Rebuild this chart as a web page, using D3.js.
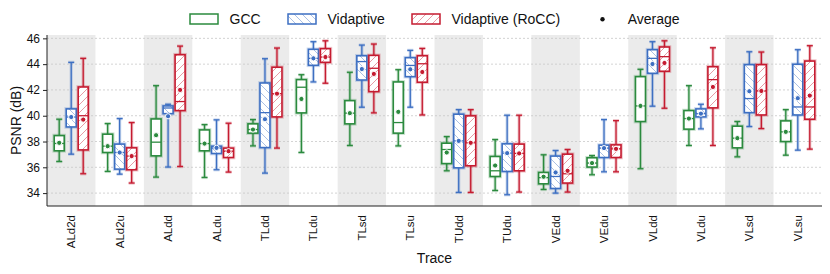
<!DOCTYPE html>
<html><head><meta charset="utf-8">
<script src="https://cdn.jsdelivr.net/npm/d3@7"></script>
<style>body{margin:0;background:#fff}svg{display:block;font-family:"Liberation Sans",Arial,sans-serif}</style>
</head><body><svg id="c" width="830" height="274"></svg>
<script>
const categories = ["ALd2d","ALd2u","ALdd","ALdu","TLdd","TLdu","TLsd","TLsu","TUdd","TUdu","VEdd","VEdu","VLdd","VLdu","VLsd","VLsu"];
const seriesNames = ["GCC","Vidaptive","Vidaptive (RoCC)"];
const yTicks = [34,36,38,40,42,44,46];

const gccLo   = [36.45,35.68,35.24,35.21,37.66,37.15,37.69,37.66,35.73,34.2,34.28,35.42,35.89,37.69,36.81,36.94];
const gccQ1   = [37.28,37.15,36.89,37.28,38.65,40.22,39.37,38.65,36.29,35.29,34.72,36.02,39.55,38.96,37.51,38.0];
const gccMed  = [37.85,37.64,37.95,37.84,38.93,42.21,40.2,39.47,37.38,35.73,35.2,36.33,40.76,39.78,38.26,38.75];
const gccQ3   = [38.46,38.57,39.75,38.9,39.37,42.8,41.17,42.62,37.87,36.84,35.6,36.74,43.03,40.4,39.19,39.6];
const gccHi   = [39.73,39.39,42.33,39.31,39.7,43.18,43.37,43.57,38.38,38.15,36.97,36.91,43.6,42.33,39.55,40.47];
const gccMean = [37.9,37.64,38.49,37.84,38.93,41.3,40.2,40.3,37.15,36.14,35.27,36.33,40.76,39.78,38.26,38.75];

const vidLo   = [37.02,35.47,36.02,35.81,35.55,42.62,40.66,40.66,34.05,33.87,34.0,35.65,40.74,38.98,39.16,37.33];
const vidQ1   = [39.13,35.86,40.16,37.07,37.53,43.91,42.77,43.03,35.96,35.68,34.36,36.76,43.29,39.91,40.24,40.06];
const vidMed  = [39.9,37.15,40.6,37.5,40.24,44.45,44.2,43.9,38.05,37.1,35.29,37.49,44.45,40.16,41.33,40.68];
const vidQ3   = [40.53,37.8,40.76,37.64,42.54,45.15,44.65,44.5,40.12,37.82,36.87,37.72,45.12,40.53,43.96,43.99];
const vidHi   = [44.14,39.78,40.89,39.68,44.42,45.74,45.48,45.07,40.47,40.04,37.3,39.7,45.74,40.89,44.96,45.12];
const vidMean = [39.9,37.15,39.96,37.51,39.73,44.45,43.62,43.6,38.05,37.1,35.6,37.49,44.01,40.16,41.9,41.36];

const rocLo   = [35.5,34.78,36.06,35.63,37.49,42.52,40.22,40.06,34.05,34.08,34.08,35.65,40.58,37.69,39.0,37.41];
const rocQ1   = [37.35,35.81,40.4,36.76,39.91,44.14,41.87,42.6,36.12,35.73,34.78,36.76,43.45,40.61,40.06,39.73];
const rocMed  = [40.0,36.87,41.1,37.25,41.71,44.55,43.68,44.03,37.9,37.08,35.5,37.43,44.58,42.8,41.92,40.68];
const rocQ3   = [42.23,37.51,44.73,37.49,43.76,45.2,44.68,44.65,39.99,37.8,37.02,37.74,45.33,43.8,43.96,44.24];
const rocHi   = [44.45,39.47,45.4,39.42,45.25,45.81,45.56,45.22,40.47,40.04,37.38,39.62,45.81,45.27,44.94,45.43];
const rocMean = [39.7,36.87,42.0,37.25,41.71,44.55,43.24,43.39,37.9,37.08,35.73,37.43,44.09,42.23,41.92,41.56];

const colors = ["#2b8a3e","#3d6fc2","#c51b30"];

const series = [
  {lo:gccLo,q1:gccQ1,med:gccMed,q3:gccQ3,hi:gccHi,mean:gccMean},
  {lo:vidLo,q1:vidQ1,med:vidMed,q3:vidQ3,hi:vidHi,mean:vidMean},
  {lo:rocLo,q1:rocQ1,med:rocMed,q3:rocQ3,hi:rocHi,mean:rocMean}
];

const svg = d3.select("#c");
const L=47,R=822,T=35,B=206;
const x = d3.scaleBand().domain(categories).range([L,R]).padding(0);
const xs = d3.scalePoint().domain(seriesNames).range([-12,12]);
const y = d3.scaleLinear().domain([33,46.26]).range([B,T]);
const bw = 10, cap = 6;

const defs = svg.append("defs");
function mkPat(id,col,dir){
  const p = defs.append("pattern").attr("id",id).attr("patternUnits","userSpaceOnUse")
    .attr("width",8).attr("height",8);
  p.append("rect").attr("width",8).attr("height",8).attr("fill","#fff");
  const d = dir==="fwd" ? "M-2,2 L2,-2 M0,8 L8,0 M6,10 L10,6" : "M-2,6 L2,10 M0,0 L8,8 M6,-2 L10,2";
  p.append("path").attr("d",d).attr("stroke",col).attr("stroke-width",0.8).attr("stroke-opacity",0.55);
}
mkPat("hb",colors[1],"back");
mkPat("hf",colors[2],"fwd");
const fills = ["#fff","url(#hb)","url(#hf)"];

svg.append("g").selectAll("rect").data(categories.filter((d,i)=>i%2===0)).join("rect")
  .attr("x",d=>x(d)).attr("y",T).attr("width",x.bandwidth()).attr("height",B-T).attr("fill","#ebebeb");

svg.append("g").selectAll("line").data(yTicks).join("line")
  .attr("x1",L).attr("x2",R).attr("y1",d=>y(d)).attr("y2",d=>y(d))
  .attr("stroke","#c8c8c8").attr("stroke-width",0.8).attr("stroke-dasharray","2,2");

series.forEach((s,si)=>{
  const g = svg.append("g");
  const col = colors[si];
  categories.forEach((c,i)=>{
    const cx = x(c)+x.bandwidth()/2+xs(seriesNames[si]);
    const gg = g.append("g");
    const segs = [
      [cx,y(s.hi[i]),cx,y(s.q3[i])],[cx,y(s.q1[i]),cx,y(s.lo[i])],
      [cx-cap/2,y(s.hi[i]),cx+cap/2,y(s.hi[i])],[cx-cap/2,y(s.lo[i]),cx+cap/2,y(s.lo[i])]
    ];
    segs.forEach(a=>gg.append("line").attr("x1",a[0]).attr("y1",a[1]).attr("x2",a[2]).attr("y2",a[3])
      .attr("stroke",col).attr("stroke-opacity",0.25).attr("stroke-width",3.2));
    gg.append("rect").attr("x",cx-bw/2).attr("y",y(s.q3[i])).attr("width",bw)
      .attr("height",Math.max(0.5,y(s.q1[i])-y(s.q3[i])))
      .attr("fill","none").attr("stroke",col).attr("stroke-opacity",0.25).attr("stroke-width",3.6);
    segs.forEach(a=>gg.append("line").attr("x1",a[0]).attr("y1",a[1]).attr("x2",a[2]).attr("y2",a[3])
      .attr("stroke",col).attr("stroke-width",1.3));
    gg.append("rect").attr("x",cx-bw/2).attr("y",y(s.q3[i])).attr("width",bw)
      .attr("height",Math.max(0.5,y(s.q1[i])-y(s.q3[i])))
      .attr("fill",fills[si]).attr("stroke",col).attr("stroke-width",1.6);
    gg.append("line").attr("x1",cx-bw/2).attr("x2",cx+bw/2).attr("y1",y(s.med[i])).attr("y2",y(s.med[i]))
      .attr("stroke",col).attr("stroke-width",1.3);
    gg.append("circle").attr("cx",cx).attr("cy",y(s.mean[i])).attr("r",2.6)
      .attr("fill",col).attr("stroke","#fff").attr("stroke-width",1);
  });
});

const ya = svg.append("g").attr("transform",`translate(${L},0)`)
  .call(d3.axisLeft(y).tickValues(yTicks).tickSize(4).tickPadding(3));
ya.select(".domain").attr("d",`M0,${T}V${B}`).attr("stroke","#222");
ya.selectAll(".tick line").attr("stroke","#222");
ya.selectAll("text").attr("font-size",12).attr("fill","#111").attr("font-family","Liberation Sans, Arial, sans-serif");

const xa = svg.append("g").attr("transform",`translate(0,${B})`)
  .call(d3.axisBottom(x).tickSize(0).tickPadding(0));
xa.select(".domain").attr("d",`M${L},0H${R}`).attr("stroke","#222").attr("stroke-width",1.2);
xa.selectAll("text").attr("font-size",11.5).attr("fill","#111").attr("font-family","Liberation Sans, Arial, sans-serif")
  .attr("transform","rotate(-90)").attr("text-anchor","end").attr("x",-9).attr("y",0).attr("dy","0.35em");

svg.append("text").attr("x",(L+R)/2).attr("y",263).attr("text-anchor","middle")
  .attr("font-size",14).attr("fill","#111").text("Trace");
svg.append("text").attr("transform",`translate(21,${(T+B)/2}) rotate(-90)`).attr("text-anchor","middle")
  .attr("font-size",14).attr("fill","#111").text("PSNR (dB)");

const lg = svg.append("g");
const lx = [190,288,412];
seriesNames.forEach((n,i)=>{
  lg.append("rect").attr("x",lx[i]).attr("y",14).attr("width",28).attr("height",10)
    .attr("fill",fills[i]).attr("stroke",colors[i]).attr("stroke-width",1.5);
  lg.append("text").attr("x",lx[i]+39.5).attr("y",24.2).attr("font-size",14).attr("fill","#111").text(n);
});
lg.append("circle").attr("cx",602.5).attr("cy",19.3).attr("r",2.2).attr("fill","#111");
lg.append("text").attr("x",627.7).attr("y",24.2).attr("font-size",14).attr("fill","#111").text("Average");
</script></body></html>
